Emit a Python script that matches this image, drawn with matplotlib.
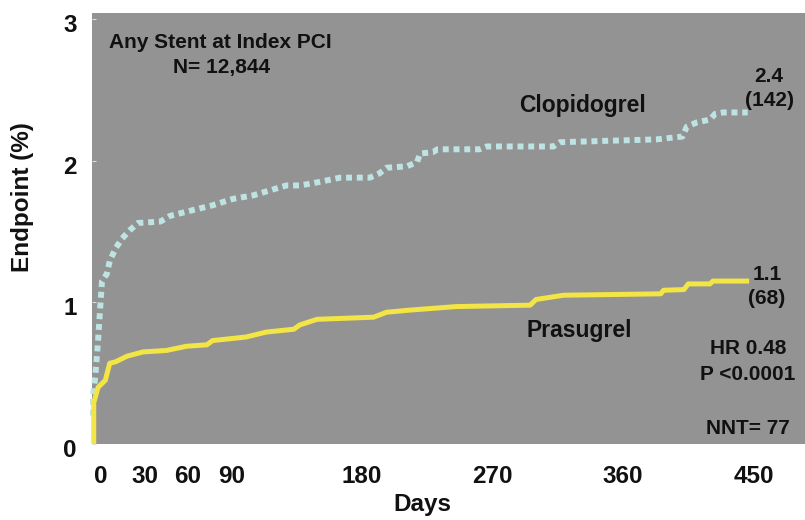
import matplotlib
matplotlib.use("Agg")
import matplotlib.pyplot as plt
import matplotlib.transforms as mtransforms

plt.rcParams['font.family'] = ['Liberation Sans', 'DejaVu Sans']

# curves (day, endpoint %)
clop_days = [-5.5, -5.5, -4, -2, -0.7, 0.7, 4, 6, 10, 14.5, 20, 25.5, 41, 47.6, 63, 77,
             91, 105, 116.5, 128, 137, 146, 153, 165, 185.5, 192, 197, 211, 218, 220,
             229, 232, 261, 266, 312, 316.5, 383, 401, 404, 411, 420, 423.5, 429, 446]
clop_vals = [0.2, 0.34, 0.47, 0.73, 0.94, 1.15, 1.20, 1.29, 1.38, 1.45, 1.51, 1.56, 1.57, 1.61,
             1.65, 1.685, 1.73, 1.755, 1.79, 1.825, 1.825, 1.84, 1.855, 1.88, 1.88, 1.91, 1.95,
             1.96, 1.99, 2.05, 2.06, 2.08, 2.08, 2.10, 2.10, 2.13, 2.15, 2.17, 2.24, 2.27,
             2.29, 2.33, 2.34, 2.34]

pras_days = [-5, -5, -2, 3, 6, 10, 18, 29, 45, 59, 73, 77, 100, 114, 133, 137, 149, 188,
             197, 213, 245, 296, 300, 319, 386, 388, 402, 405, 420, 422, 447]
pras_vals = [0.0, 0.29, 0.40, 0.45, 0.57, 0.58, 0.62, 0.65, 0.66, 0.69, 0.70, 0.73, 0.755,
             0.79, 0.81, 0.84, 0.88, 0.895, 0.93, 0.945, 0.97, 0.98, 1.02, 1.05, 1.06, 1.085,
             1.09, 1.13, 1.13, 1.15, 1.15]

x_ticks = [0, 30, 60, 90, 180, 270, 360, 450]
y_ticks = [0, 1, 2, 3]

fig = plt.figure(figsize=(8.05, 5.2), dpi=100)
ax = fig.add_axes([92 / 805, 1 - 444 / 520, 1 - 92 / 805, (444 - 13) / 520])
ax.set_facecolor('#939393')
for s in ax.spines.values():
    s.set_visible(False)

ax.plot(clop_days, clop_vals, color='#BDE3E3', lw=4.3,
        linestyle=(0, (1, 0.8)), dash_capstyle='butt', clip_on=False)
ax.plot(pras_days, pras_vals, color='#F2E545', lw=3.6,
        solid_capstyle='butt', clip_on=False)

ax.set_xlim(-6.2, 485.5)
ax.set_ylim(0.028, 3.042)
ax.set_xticks(x_ticks)
ax.set_yticks(y_ticks)
ax.tick_params(axis='x', length=0, pad=15, labelsize=17.5)
ax.tick_params(axis='y', length=3, direction='in', color='#dddddd', pad=11, labelsize=17.5)
for lab in ax.get_xticklabels() + ax.get_yticklabels():
    lab.set_fontweight('bold')
    lab.set_color('#111111')
off = mtransforms.ScaledTranslation(0, -4 / 100, fig.dpi_scale_trans)
for lab in ax.get_yticklabels():
    lab.set_transform(lab.get_transform() + off)

ax.set_xlabel('Days', fontsize=17.5, fontweight='bold', color='#111111', va='center')
ax.set_ylabel('Endpoint (%)', fontsize=17.5, fontweight='bold', color='#111111', va='center')
ax.xaxis.set_label_coords(0.464, -0.1415)
ax.yaxis.set_label_coords(-0.0968, 0.573)

tk = dict(fontsize=15, fontweight='bold', color='#111111', ha='center', va='center')
lk = dict(fontsize=16.5, fontweight='bold', color='#111111', ha='center', va='center')
px = lambda x, y: (x / 805, 1 - y / 520)
fig.text(*px(220, 42), 'Any Stent at Index PCI', **tk)
fig.text(*px(222, 67), 'N= 12,844', **tk)
fig.text(*px(582, 106), 'Clopidogrel', **lk)
fig.text(*px(579, 331), 'Prasugrel', **lk)
fig.text(*px(769, 76), '2.4', **tk)
fig.text(*px(769, 101), '(142)', **tk)
fig.text(*px(767, 274), '1.1', **tk)
fig.text(*px(767, 299), '(68)', **tk)
fig.text(*px(748, 348), 'HR 0.48', **tk)
fig.text(*px(748, 374), 'P <0.0001', **tk)
fig.text(*px(748, 428), 'NNT= 77', **tk)

fig.savefig('out.png', dpi=100)
